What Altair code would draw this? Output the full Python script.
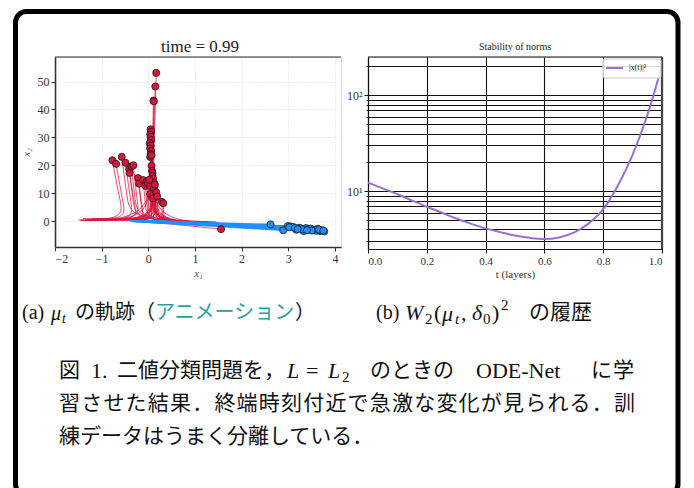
import altair as alt
import pandas as pd

SERIF = "Liberation Serif, Noto Sans CJK JP"
OX, OY = 55, 56          # page position of the left plot's top-left corner (text layout)
RX = 368                 # page x of the right plot's left edge

# ---------------- left panel: trajectories (time = 0.99) ----------------
red_final_x = [0.17, 0.15, 0.11, 0.12, -0.77, -0.69, -0.57, -0.49, -0.41, -0.40, -0.36, -0.32,
               -0.22, -0.20, -0.11, -0.04, -0.06, -0.01, 0.05, 0.06, 0.04, 0.05, 0.06, 0.03,
               0.05, 0.04, 0.06, 0.05, 0.04, 0.07, 0.07, 0.08, 0.09, 0.09, 0.10, 0.12,
               0.13, 0.04, 0.12, 0.04, 0.17, 0.10, 0.19, 0.29, 0.32, 1.56, 0.02, 0.14]
red_final_y = [53.1, 48.2, 43.2, 42.9, 21.8, 20.5, 23.0, 20.9, 18.6, 17.2, 19.6, 20.0,
               15.4, 13.4, 14.7, 14.1, 12.6, 13.6, 32.9, 32.0, 31.0, 30.1, 29.0, 27.9,
               27.0, 26.0, 25.1, 24.0, 23.0, 23.6, 19.8, 18.0, 17.2, 16.2, 15.3, 13.8,
               12.6, 12.6, 11.7, 9.7, 10.3, 8.1, 8.8, 6.9, 6.4, -2.9, 14.8, 13.0]
red_mid_x = [0.12, 0.10, 0.08, 0.09, -0.62, -0.55, -0.45, -0.38, -0.32, -0.30, -0.28, -0.24,
             -0.15, -0.13, -0.06, 0.00, -0.02, 0.02, 0.08, 0.09, 0.07, 0.08, 0.10, 0.07,
             0.09, 0.08, 0.10, 0.09, 0.08, 0.10, 0.10, 0.11, 0.12, 0.12, 0.13, 0.15,
             0.16, 0.07, 0.15, 0.07, 0.19, 0.12, 0.21, 0.30, 0.33, 0.80, 0.05, 0.16]
red_mid_y = [25, 22, 20, 20, 8, 7, 8, 7, 6, 6, 6.5, 7,
             5, 4.5, 5, 5, 4, 4.5, 12, 11, 11, 10, 10, 9,
             9, 9, 8, 8, 8, 8, 7, 6, 6, 5, 5, 4.5,
             4, 4, 4, 3, 3.5, 2.5, 3, 2.5, 2, -1.6, 5, 4.5]
red_base_x = [0.08, 0.06, 0.05, 0.07, -0.50, -0.45, -0.38, -0.30, -0.25, -0.22, -0.20, -0.17,
              -0.10, -0.08, -0.03, 0.02, 0.00, 0.04, 0.10, 0.11, 0.09, 0.12, 0.13, 0.10,
              0.12, 0.11, 0.14, 0.12, 0.10, 0.13, 0.13, 0.14, 0.15, 0.16, 0.16, 0.18,
              0.18, 0.09, 0.19, 0.09, 0.22, 0.14, 0.24, 0.32, 0.35, 0.10, 0.07, 0.18]
red_base_y = [0.5, 0.4, 0.3, 0.2, 0.6, 0.5, 0.6, 0.4, 0.5, 0.4, 0.5, 0.4,
              0.3, 0.3, 0.3, 0.2, 0.2, 0.2, 0.3, 0.2, 0.2, 0.3, 0.2, 0.2,
              0.3, 0.3, 0.2, 0.2, 0.2, 0.3, 0.2, 0.2, 0.2, 0.2, 0.2, 0.2,
              0.2, 0.2, 0.2, 0.2, 0.2, 0.2, 0.2, 0.2, 0.2, -0.4, 0.2, 0.3]
red_start_x = [-1.45, 1.40, -1.20, 1.10, -1.50, -1.35, 1.30, -1.10, 1.20, -0.95, 1.45, -1.25,
               0.95, -0.80, 1.50, -1.40, 0.80, -0.70, 1.35, -1.30, 1.00, -1.05, 1.25, -0.90,
               0.70, -1.15, 1.15, -0.60, 0.60, -1.45, 0.90, -0.85, 1.40, -0.50, 0.50, -1.00,
               1.10, -0.35, 0.85, -0.65, 1.30, -1.20, 0.75, 1.45, -0.40, -0.30, -1.35, 1.00]
red_start_y = [0.2, -0.6, 0.6, -0.8, 0.4, 0.7, -0.4, 0.8, -0.7, 0.5, -0.3, 0.3,
               -0.9, 0.6, -0.5, 0.9, -0.6, 0.7, -0.8, 0.5, -0.4, 0.8, -1.0, 0.4,
               -0.5, 0.6, -0.3, 0.5, -0.7, 0.3, -0.2, 0.9, -0.9, 0.6, -0.4, 0.3,
               -0.6, 0.4, -0.8, 0.8, -0.2, 0.9, -0.9, -0.6, 0.3, -0.2, 0.2, -1.0]

blue_final_x = [2.62, 2.89, 2.99, 3.05, 3.11, 3.17, 3.23, 3.27, 3.33, 3.38, 3.44, 3.48, 3.54,
                3.60, 3.63, 3.68, 3.72, 3.77, 3.02, 3.14, 3.30, 3.50, 3.66, 3.75, 3.20, 3.40]
blue_final_y = [-1.2, -3.3, -1.8, -1.9, -2.1, -3.1, -2.4, -2.6, -3.6, -2.5, -2.8, -2.7, -3.2,
                -3.5, -2.8, -3.6, -3.3, -3.7, -2.2, -2.5, -3.0, -3.4, -3.0, -3.4, -2.9, -3.3]
blue_start_x = [-0.42, -0.30, -0.20, -0.10, 0.00, 0.10, 0.20, 0.30, 0.40, 0.50, -0.35, -0.25, -0.15,
                -0.05, 0.05, 0.15, 0.25, 0.35, 0.45, 0.55, -0.38, -0.12, 0.08, 0.28, 0.48, 0.60]
blue_start_y = [0.1, -0.1, 0.2, -0.2, 0.0, -0.3, 0.1, -0.4, -0.2, -0.5, -0.1, 0.2, -0.3,
                0.1, -0.2, 0.0, -0.4, -0.1, -0.3, -0.6, 0.0, -0.1, -0.3, -0.2, -0.4, -0.5]

x_ticks = [-2, -1, 0, 1, 2, 3, 4]
y_ticks = [0, 10, 20, 30, 40, 50]

# ---------------- right panel: stability of norms ----------------
t_vals = [0.0, 0.05, 0.1, 0.15, 0.2, 0.25, 0.3, 0.35, 0.4, 0.45, 0.5, 0.55, 0.6, 0.65,
          0.7, 0.75, 0.8, 0.85, 0.9, 0.95, 1.0]
norm_vals = [12.3, 10.7, 9.3, 8.0, 6.9, 6.0, 5.2, 4.6, 4.1, 3.75, 3.45, 3.27, 3.18, 3.3,
             3.7, 4.6, 6.5, 11.5, 24.0, 62.0, 205.0]
t_ticks = [0.0, 0.2, 0.4, 0.6, 0.8, 1.0]
log_grid = [3, 4, 5, 6, 7, 8, 9, 10, 20, 30, 40, 50, 60, 70, 80, 90, 100, 200]
legend_label = "|x(t)|²"

# ---------------- tables ----------------
rows = []
for i in range(len(red_final_x)):
    pts = [(red_start_x[i], red_start_y[i]), (red_base_x[i], red_base_y[i]),
           (red_mid_x[i], red_mid_y[i]), (red_final_x[i], red_final_y[i])]
    for k, (px, py) in enumerate(pts):
        rows.append({"id": i, "k": k, "x": px, "y": py})
red_traj = pd.DataFrame(rows)
rows = []
for i in range(len(blue_final_x)):
    rows.append({"id": i, "k": 0, "x": blue_start_x[i], "y": blue_start_y[i]})
    rows.append({"id": i, "k": 1, "x": blue_final_x[i], "y": blue_final_y[i]})
blue_traj = pd.DataFrame(rows)
red_pts = pd.DataFrame({"x": red_final_x, "y": red_final_y})
blue_pts = pd.DataFrame({"x": blue_final_x, "y": blue_final_y})
norm_df = pd.DataFrame({"t": t_vals, "v": norm_vals})
one = pd.DataFrame({"a": [0]})

LW, LH = 286, 190
RW, RH = 294, 192

xs = alt.Scale(domain=[-2.0, 4.13], nice=False, zero=False)
ys = alt.Scale(domain=[-9.3, 58.8], nice=False, zero=False)
ax_common = dict(grid=True, gridColor="#d6d6d6", gridDash=[1, 2], gridWidth=0.8,
                 domainColor="#333333", domainWidth=1.6, tickColor="#333333", tickSize=4,
                 labelFont="Liberation Serif", labelFontSize=12, labelColor="#333333",
                 titleFont="Liberation Serif", titleFontStyle="italic", titleFontWeight="normal",
                 titleFontSize=11, titleColor="#555555")
X = alt.X("x:Q", scale=xs, axis=alt.Axis(values=x_ticks, format="d", title="x₁", titlePadding=3, **ax_common))
Y = alt.Y("y:Q", scale=ys, axis=alt.Axis(values=y_ticks, format="d", title="x₂", titlePadding=6, **ax_common))

red_lines = alt.Chart(red_traj).mark_line(color="#dc143c", strokeWidth=0.9, opacity=0.85,
                                          interpolate="basis").encode(x=X, y=Y, detail="id:N", order="k:Q")
blue_lines = alt.Chart(blue_traj).mark_line(color="#1e90ff", strokeWidth=1.6, opacity=0.9).encode(
    x=X, y=Y, detail="id:N", order="k:Q")
red_dots = alt.Chart(red_pts).mark_point(filled=True, fill="#dc143c", stroke="#1a1a1a", strokeWidth=0.8,
                                         size=50, opacity=1).encode(x=X, y=Y)
blue_dots = alt.Chart(blue_pts).mark_point(filled=True, fill="#1e90ff", stroke="#1a1a1a", strokeWidth=0.8,
                                           size=50, opacity=1).encode(x=X, y=Y)
top_spine = alt.Chart(one).mark_rule(color="#333333", strokeWidth=1.2).encode(
    x=alt.value(0), x2=alt.value(LW), y=alt.value(0))


def txt(s, px, py, size, italic=False, color="#111111", align="left", ox=OX, font=SERIF):
    return alt.Chart(one).mark_text(text=s, font=font, fontSize=size, align=align, baseline="middle",
                                    fontStyle="italic" if italic else "normal", color=color).encode(
        x=alt.value(px - ox), y=alt.value(py - OY))


texts = [txt("time = 0.99", 200, 46, 17, align="center", color="#222222", font="Liberation Serif")]
# sub-caption (a)
SY = 312
texts += [txt("(a)", 22, SY, 20), txt("μ", 51, SY + 1, 20, True), txt("t", 62, SY + 6, 14, True),
          txt("の軌跡", 75, SY, 20), txt("（", 135, SY, 20),
          txt("アニメーション", 155, SY, 20, color="#2a9d9c"), txt("）", 295, SY, 20)]
# sub-caption (b)
texts += [txt("(b)", 376, SY, 20), txt("W", 405, SY, 22, True), txt("2", 425, SY + 6, 15),
          txt("(", 434, SY, 22), txt("μ", 442, SY + 1, 22, True), txt("t", 455, SY + 6, 15, True),
          txt(",", 461, SY, 22), txt("δ", 472, SY, 22, True), txt("0", 483, SY + 6, 15),
          txt(")", 492, SY, 22), txt("2", 501, SY - 8, 15), txt("の履歴", 529, SY, 21)]
# figure caption, line 1 (justified pieces)
L1 = 370
texts += [txt("図", 59, L1, 21), txt("1.", 91, L1, 22), txt("二値分類問題を，", 117, L1, 21),
          txt("L", 287, L1, 22, True), txt("=", 306, L1, 22), txt("L", 328, L1, 22, True),
          txt("2", 342, L1 + 6, 15), txt("のときの", 370, L1, 21), txt("ODE-Net", 476, L1, 22),
          txt("に", 591, L1, 21), txt("学", 613, L1, 21)]
# line 2 (justified)
line2 = "習させた結果．終端時刻付近で急激な変化が見られる．訓"
for i, ch in enumerate(line2):
    texts.append(txt(ch, 59 + i * 22.2, 403, 21))
# line 3
texts.append(txt("練データはうまく分離している．", 59, 436, 21))

frame = alt.Chart(one).mark_rect(fillOpacity=0, stroke="#000000", strokeWidth=5, cornerRadius=11).encode(
    x=alt.value(15.5 - OX), x2=alt.value(678 - OX), y=alt.value(10.5 - OY), y2=alt.value(494 - OY))

left = alt.layer(red_lines, blue_lines, red_dots, blue_dots, top_spine, *texts, frame).properties(
    width=LW, height=LH)

# ---------------- right panel ----------------
rax = dict(grid=True, gridColor="#111111", gridWidth=1.1, domainColor="#111111", domainWidth=1.2,
           tickColor="#111111", labelFont="Liberation Serif", labelColor="#333333",
           titleFont="Liberation Serif", titleFontWeight="normal", titleFontSize=11, titleColor="#333333")
curve = alt.Chart(norm_df).mark_line(strokeWidth=2, interpolate="monotone", color="#9a6fd0").encode(
    x=alt.X("t:Q", scale=alt.Scale(domain=[0, 1], nice=False),
            axis=alt.Axis(values=t_ticks, format=".1f", title="t (layers)", tickSize=4, titlePadding=2,
                          labelFontSize=11, **rax)),
    y=alt.Y("v:Q", scale=alt.Scale(type="log", domain=[2.5, 251], nice=False),
            axis=alt.Axis(values=log_grid, title=None,
                          labelExpr="datum.value == 10 ? '10¹' : (datum.value == 100 ? '10²' : '')",
                          tickSize={"condition": {"test": "datum.value == 10 || datum.value == 100",
                                                  "value": 4}, "value": 2},
                          labelFontSize=12, **rax)))
r_top = alt.Chart(one).mark_rule(color="#111111", strokeWidth=1.2).encode(
    x=alt.value(0), x2=alt.value(RW), y=alt.value(0))
r_right = alt.Chart(one).mark_rule(color="#444444", strokeWidth=2.2).encode(
    x=alt.value(RW), y=alt.value(0), y2=alt.value(RH))
# legend box (upper right, inside the axes)
leg_box = alt.Chart(one).mark_rect(fill="#ffffff", fillOpacity=0.85, stroke="#cccccc", strokeWidth=1,
                                   cornerRadius=2).encode(
    x=alt.value(603 - RX), x2=alt.value(661 - RX), y=alt.value(58 - OY), y2=alt.value(77 - OY))
leg_line = alt.Chart(one).mark_rule(color="#9a6fd0", strokeWidth=2).encode(
    x=alt.value(606 - RX), x2=alt.value(623 - RX), y=alt.value(67 - OY))
leg_text = txt(legend_label, 629, 67, 8, ox=RX, font="Liberation Serif")
r_title = txt("Stability of norms", 515, 46, 10, align="center", ox=RX, color="#222222",
              font="Liberation Serif")

right = alt.layer(curve, r_top, r_right, leg_box, leg_line, leg_text, r_title).properties(
    width=RW, height=RH)

chart = alt.hconcat(left, right, spacing=27, bounds="flush").properties(
    padding={"left": 4, "top": 0, "right": 0, "bottom": 0}
).configure_view(fill="#f3f3f3", strokeWidth=0).configure(font="Liberation Serif")

chart.save("out.html", embed_options={"renderer": "svg", "actions": False})
